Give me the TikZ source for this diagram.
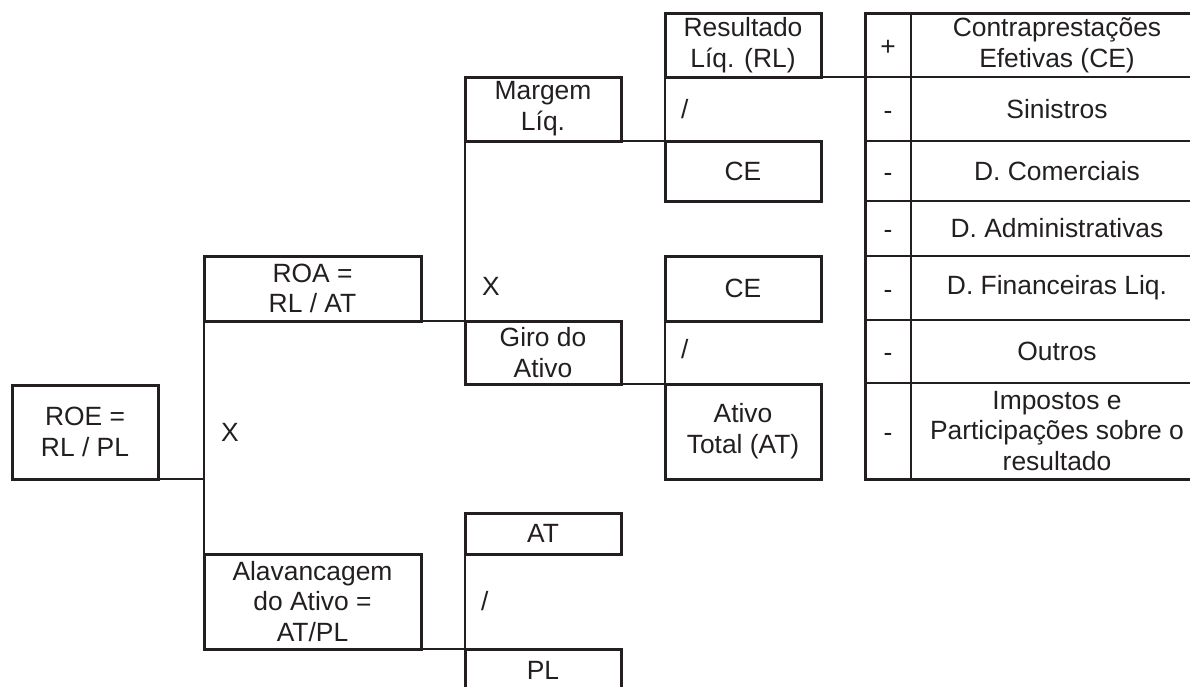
\documentclass[tikz,border=0pt]{standalone}
\usepackage{fontspec}
\setmainfont{Liberation Sans}
\usetikzlibrary{positioning}
\definecolor{inkGray}{RGB}{35,31,32}
\tikzset{
  duBox/.style  = {rectangle, draw=inkGray, line width=3pt, text=inkGray,
                   anchor=north west, align=center, inner sep=0pt, outer sep=0pt,
                   font=\fontsize{26.4}{30.8}\selectfont},
  duCell/.style = {duBox, line width=2.4pt},
  duSign/.style = {duCell, minimum width=46pt, text height=20.6pt, text depth=0pt},
  duLink/.style = {draw=inkGray, line width=2.4pt},
  duOp/.style   = {right, inner sep=0pt, text=inkGray,
                   font=\fontsize{26.4}{30.8}\selectfont},
}

\begin{document}
\begin{tikzpicture}[x=1pt, y=-1pt]
  \useasboundingbox (0,0) rectangle (1190,686);
  % ROE, ROA, alavancagem
  \node[duBox, minimum width=146pt, minimum height=94pt] (roe) at (12,385) {ROE =\\RL / PL};
  \node[duBox, minimum width=217pt, minimum height=65pt] (roa) at (204,256) {ROA =\\RL / AT};
  \node[duBox, minimum width=217pt, minimum height=95pt] (alav) at (204,554) {Alavancagem\\do Ativo =\\AT/PL};
  % second level
  \node[duBox, minimum width=156pt, minimum height=64pt] (margem) at (465,77) {Margem\\Líq.};
  \node[duBox, minimum width=156pt, minimum height=63pt] (giro) at (465,321) {Giro do\\Ativo};
  \node[duBox, minimum width=156pt, minimum height=41pt] (atq) at (465,513) {AT};
  \node[duBox, minimum width=156pt, minimum height=43pt] (pl) at (465,649) {PL};
  % third level
  \node[duBox, minimum width=156pt, minimum height=64pt] (rl) at (665,13) {Resultado\\Líq. (RL)};
  \node[duBox, minimum width=156pt, minimum height=60pt] (ceA) at (665,141) {CE};
  \node[duBox, minimum width=156pt, minimum height=65pt] (ceB) at (665,256) {CE};
  \node[duBox, minimum width=156pt, minimum height=95pt] (ativo) at (665,384) {Ativo\\Total (AT)};
  % DRE table
  \node[duSign, minimum height=64pt] (s1) at (865,13) {+};
  \node[duCell, minimum width=292pt, minimum height=64pt, right=0pt of s1] (t1) {Contraprestações\\Efetivas (CE)};
  \node[duSign, minimum height=64pt, below=0pt of s1] (s2) {-};
  \node[duCell, minimum width=292pt, minimum height=64pt, right=0pt of s2] (t2) {Sinistros};
  \node[duSign, minimum height=60pt, below=0pt of s2] (s3) {-};
  \node[duCell, minimum width=292pt, minimum height=60pt, right=0pt of s3] (t3) {D. Comerciais};
  \node[duSign, minimum height=55pt, below=0pt of s3] (s4) {-};
  \node[duCell, minimum width=292pt, minimum height=55pt, right=0pt of s4] (t4) {D. Administrativas};
  \node[duSign, minimum height=64pt, below=0pt of s4] (s5) {-};
  \node[duCell, minimum width=292pt, minimum height=64pt, right=0pt of s5] (t5) {D. Financeiras Liq.};
  \node[duSign, minimum height=63pt, below=0pt of s5] (s6) {-};
  \node[duCell, minimum width=292pt, minimum height=63pt, right=0pt of s6] (t6) {Outros};
  \node[duSign, minimum height=96pt, below=0pt of s6] (s7) {-};
  \node[duCell, minimum width=292pt, minimum height=96pt, right=0pt of s7] (t7) {Impostos e\\Participações sobre o\\resultado};
  \draw[duLink, line width=3pt] (s1.north west) rectangle (t7.south east);
  % links
  \draw[duLink] (roe.south east) -- (roe.south east -| roa.south west);
  \draw[duLink] (roa.south west) -- node[duOp, pos=0.34, xshift=16pt] (opA) {X} (alav.south west);
  \draw[duLink] (roa.south east) -- (giro.north west);
  \draw[duLink] (alav.south east) -- (pl.north west);
  \draw[duLink] (margem.south west) -- node[duOp, pos=0.81, xshift=16pt] (opB) {X} (giro.north west);
  \draw[duLink] (margem.south east) -- (ceA.north west);
  \draw[duLink] (giro.south east) -- (ativo.north west);
  \draw[duLink] (atq.south west) -- node[duOp, pos=0.5, xshift=15pt] (opC) {/} (pl.north west);
  \draw[duLink] (rl.south west) -- node[duOp, pos=0.5, xshift=15pt] (opD) {/} (ceA.north west);
  \draw[duLink] (ceB.south west) -- node[duOp, pos=0.45, xshift=15pt] (opE) {/} (ativo.north west);
  \draw[duLink] (rl.south east) -- (s1.south west);
\end{tikzpicture}
\end{document}
